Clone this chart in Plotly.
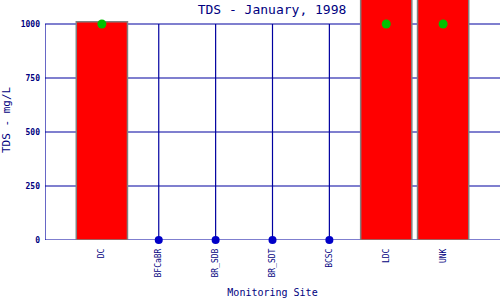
import plotly.graph_objects as go

sites = ["DC", "BFCaBR", "BR_SDB", "BR_SDT", "BCSC", "LDC", "UNK"]
tds_values = [1010, 0, 0, 0, 0, 1250, 1300]
standard_sites = ["DC", "LDC", "UNK"]
standard_values = [1000, 1000, 1000]
zero_sites = ["BFCaBR", "BR_SDB", "BR_SDT", "BCSC"]
zero_values = [0, 0, 0, 0]
y_ticks = [0, 250, 500, 750, 1000]

LINE = "#0000a0"
TXT = "#000080"
FONT = "DejaVu Sans Mono"

bar_x = [s for s, v in zip(sites, tds_values) if v > 0]
bar_y = [v for v in tds_values if v > 0]

fig = go.Figure()
fig.add_trace(go.Bar(x=bar_x, y=bar_y, width=0.9,
                     marker=dict(color="#ff0000", line=dict(color="#808080", width=1.5))))
fig.add_trace(go.Scatter(x=zero_sites, y=zero_values, mode="markers", cliponaxis=False,
                         marker=dict(color="#0000c8", size=8, symbol="circle")))
fig.add_trace(go.Scatter(x=standard_sites, y=standard_values, mode="markers", cliponaxis=False,
                         marker=dict(color="#00c000", size=9, symbol="circle")))

shapes = []
for xv in [-1, 0, 1, 2, 3, 4, 5, 6]:
    shapes.append(dict(type="line", xref="x", yref="y", x0=xv, x1=xv, y0=0, y1=1000,
                       line=dict(color=LINE, width=1.2), layer="below"))
for yv in y_ticks:
    shapes.append(dict(type="line", xref="paper", yref="y", x0=0, x1=1, y0=yv, y1=yv,
                       line=dict(color=LINE, width=1.2), layer="below"))

fig.update_layout(
    width=500, height=300,
    margin=dict(l=45, r=0, t=0, b=60),
    plot_bgcolor="white", paper_bgcolor="white",
    showlegend=False,
    shapes=shapes,
    title=dict(text="TDS - January, 1998", x=272/500, xanchor="center", y=1-9/300, yanchor="middle",
               font=dict(family=FONT, size=13, color=TXT)),
    xaxis=dict(range=[-1, 7], showgrid=False, zeroline=False, showline=False,
               tickangle=-90, tickfont=dict(family=FONT, size=8, color=TXT), ticks="",
               ticklabelstandoff=6,
               categoryorder="array", categoryarray=sites,
               title=dict(text="Monitoring Site", font=dict(family=FONT, size=10, color=TXT), standoff=12)),
    yaxis=dict(range=[0, 1111], tickvals=y_ticks, ticktext=[str(v) for v in y_ticks],
               showgrid=False, zeroline=False, showline=False, ticks="", ticklabelstandoff=4,
               tickfont=dict(family=FONT, size=8, color=TXT, weight="bold"),
               title=dict(text="TDS - mg/L", font=dict(family=FONT, size=11, color=TXT), standoff=10)),
)

fig.write_html("out.html")
